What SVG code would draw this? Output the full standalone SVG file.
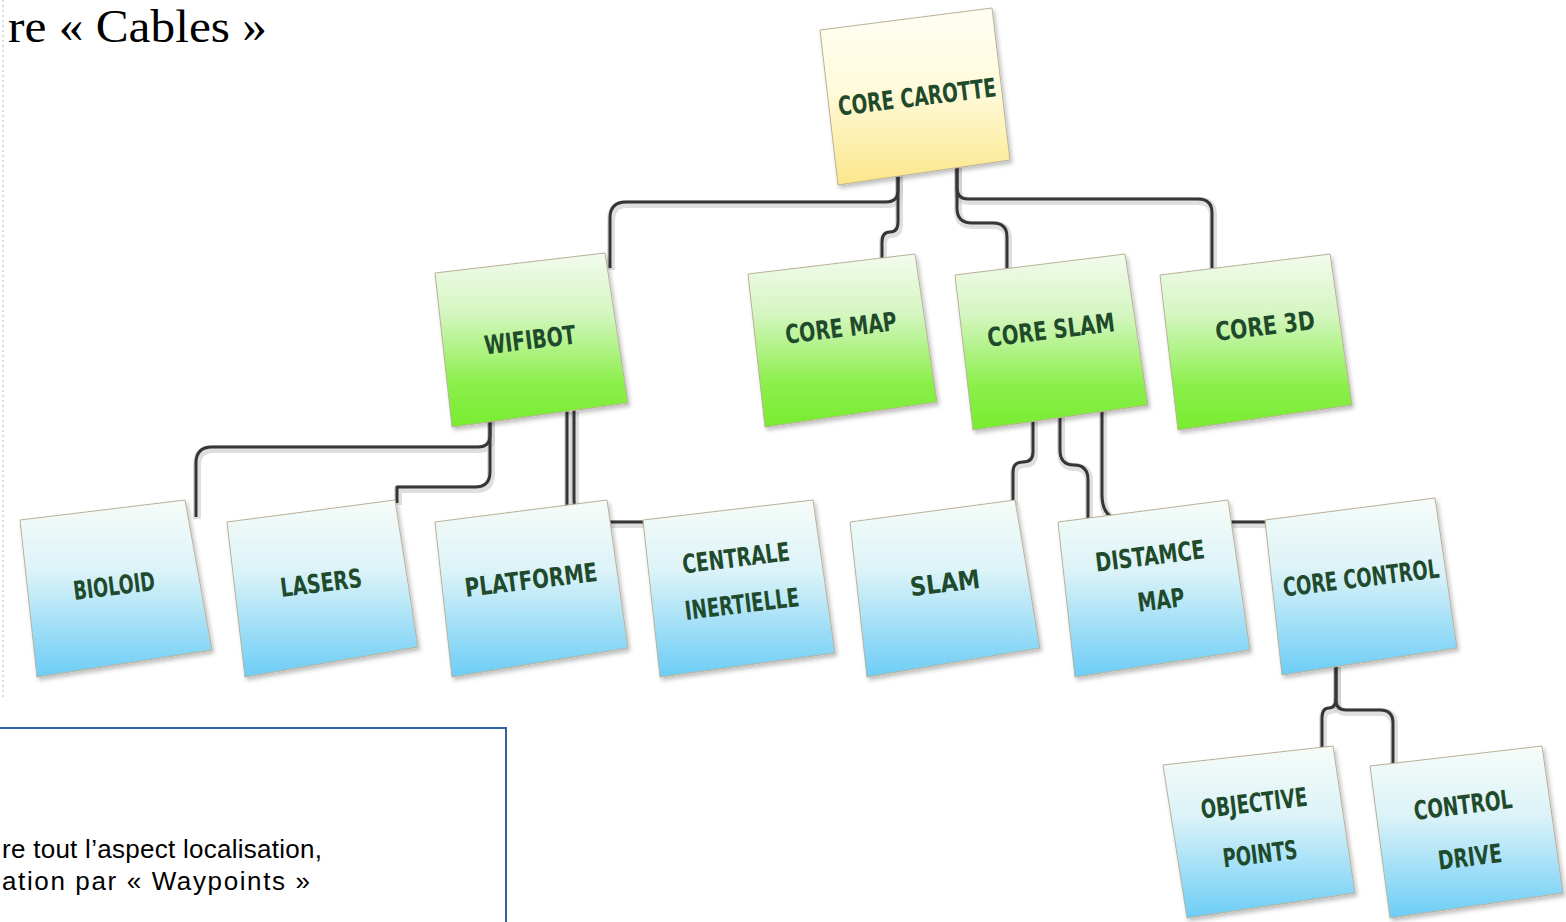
<svg xmlns="http://www.w3.org/2000/svg" width="1566" height="922" viewBox="0 0 1566 922">
<style>
.note{stroke:#b9b198;stroke-width:1;filter:url(#sh)}
.g{fill:url(#gGreen)}
.b{fill:url(#gBlue)}
.y{fill:url(#gYellow)}
.lbl{font-family:"DejaVu Sans Condensed","DejaVu Sans",sans-serif;font-weight:bold;font-size:26px;fill:#1f4a2c;text-anchor:middle;dominant-baseline:central}
.halo{fill:none;stroke:#c4c4c4;stroke-width:8;stroke-opacity:0.55;stroke-linejoin:round}
.wire{fill:none;stroke:#363636;stroke-width:3;stroke-linejoin:round}
.body{font-family:"Liberation Sans",Arial,sans-serif;font-size:26px;fill:#000}
</style>
<defs>
<linearGradient id="gGreen" x1="0" y1="0" x2="0" y2="1">
<stop offset="0" stop-color="#f3fbee"/><stop offset="0.35" stop-color="#d4f6c0"/><stop offset="0.75" stop-color="#8bef4a"/><stop offset="1" stop-color="#78ec30"/>
</linearGradient>
<linearGradient id="gBlue" x1="0" y1="0" x2="0" y2="1">
<stop offset="0" stop-color="#f6fcf8"/><stop offset="0.4" stop-color="#dcf3f8"/><stop offset="1" stop-color="#6ccdf6"/>
</linearGradient>
<linearGradient id="gYellow" x1="0" y1="0" x2="0" y2="1">
<stop offset="0" stop-color="#fffef3"/><stop offset="0.45" stop-color="#fffbdc"/><stop offset="1" stop-color="#fbe68a"/>
</linearGradient>
<filter id="sh" x="-10%" y="-10%" width="125%" height="125%">
<feDropShadow dx="2" dy="3" stdDeviation="2" flood-color="#000" flood-opacity="0.25"/>
</filter>
</defs>
<rect width="1566" height="922" fill="#fff"/>
<line x1="3" y1="0" x2="3" y2="700" stroke="#dcdcdc" stroke-width="2" stroke-dasharray="2 3"/>
<text x="8" y="42" font-family="'Liberation Serif','Times New Roman',serif" font-size="46" fill="#000" textLength="259" lengthAdjust="spacingAndGlyphs">re « Cables »</text>

<g id="connectors">
<g class="halo" transform="translate(1,2)">
<path d="M898,170 V190 Q898,202 886,202 H626 Q610,202 610,218 V268"/>
<path d="M898,170 V222 Q898,232 890,232 Q882,232 882,242 V262"/>
<path d="M957,165 V188 Q957,199 968,199 H1198 Q1212,199 1212,213 V268"/>
<path d="M957,165 V208 Q957,223 972,223 H993 Q1007,223 1007,237 V270"/>
<path d="M490,410 V435 Q490,447 478,447 H212 Q196,447 196,463 V517"/>
<path d="M490,410 V472 Q490,487 475,487 H397 V503"/>
<path d="M567,410 V506"/>
<path d="M574,410 V500 Q574,522 596,522 H646"/>
<path d="M1033,415 V452 Q1033,462 1023,462 Q1013,462 1013,472 V503"/>
<path d="M1060,412 V450 Q1060,465 1074,465 Q1088,465 1088,480 V520"/>
<path d="M1102,408 V495 Q1102,522 1130,522 H1270"/>
<path d="M1336,665 V698 Q1336,708 1329,708 Q1322,708 1322,718 V749"/>
<path d="M1336,665 V700 Q1336,710 1346,710 H1380 Q1393,710 1393,723 V765"/>
</g>
<g class="wire">
<path d="M898,170 V190 Q898,202 886,202 H626 Q610,202 610,218 V268"/>
<path d="M898,170 V222 Q898,232 890,232 Q882,232 882,242 V262"/>
<path d="M957,165 V188 Q957,199 968,199 H1198 Q1212,199 1212,213 V268"/>
<path d="M957,165 V208 Q957,223 972,223 H993 Q1007,223 1007,237 V270"/>
<path d="M490,410 V435 Q490,447 478,447 H212 Q196,447 196,463 V517"/>
<path d="M490,410 V472 Q490,487 475,487 H397 V503"/>
<path d="M567,410 V506"/>
<path d="M574,410 V500 Q574,522 596,522 H646"/>
<path d="M1033,415 V452 Q1033,462 1023,462 Q1013,462 1013,472 V503"/>
<path d="M1060,412 V450 Q1060,465 1074,465 Q1088,465 1088,480 V520"/>
<path d="M1102,408 V495 Q1102,522 1130,522 H1270"/>
<path d="M1336,665 V698 Q1336,708 1329,708 Q1322,708 1322,718 V749"/>
<path d="M1336,665 V700 Q1336,710 1346,710 H1380 Q1393,710 1393,723 V765"/>
</g>
</g>

<g id="core-carotte">
<polygon class="note y" points="820,30 992,8 1010,160 838,185"/>
<text class="lbl" x="917" y="97" textLength="159" lengthAdjust="spacingAndGlyphs" transform="rotate(-7 917 97)">CORE CAROTTE</text>
</g>
<g id="wifibot">
<polygon class="note g" points="435,273 605,253 628,403 452,427"/>
<text class="lbl" x="530" y="340" textLength="92" lengthAdjust="spacingAndGlyphs" transform="rotate(-7 530 340)">WIFIBOT</text>
</g>
<g id="core-map">
<polygon class="note g" points="748,274 915,254 937,402 765,427"/>
<text class="lbl" x="841" y="328" textLength="112" lengthAdjust="spacingAndGlyphs" transform="rotate(-7 841 328)">CORE MAP</text>
</g>
<g id="core-slam">
<polygon class="note g" points="955,275 1125,254 1148,405 973,430"/>
<text class="lbl" x="1051" y="330" textLength="128" lengthAdjust="spacingAndGlyphs" transform="rotate(-7 1051 330)">CORE SLAM</text>
</g>
<g id="core-3d">
<polygon class="note g" points="1160,275 1330,254 1352,405 1178,430"/>
<text class="lbl" x="1265" y="326" textLength="100" lengthAdjust="spacingAndGlyphs" transform="rotate(-7 1265 326)">CORE 3D</text>
</g>

<g id="bioloid">
<polygon class="note b" points="20,520 185,500 212,650 37,677"/>
<text class="lbl" x="114" y="586" textLength="82" lengthAdjust="spacingAndGlyphs" transform="rotate(-7 114 586)">BIOLOID</text>
</g>
<g id="lasers">
<polygon class="note b" points="227,522 395,500 418,647 245,677"/>
<text class="lbl" x="321" y="583" textLength="82" lengthAdjust="spacingAndGlyphs" transform="rotate(-7 321 583)">LASERS</text>
</g>
<g id="platforme">
<polygon class="note b" points="435,522 607,500 628,648 452,677"/>
<text class="lbl" x="531" y="580" textLength="133" lengthAdjust="spacingAndGlyphs" transform="rotate(-7 531 580)">PLATFORME</text>
</g>
<g id="centrale-inertielle">
<polygon class="note b" points="643,520 813,500 835,653 660,677"/>
<text class="lbl" x="736" y="558" textLength="108" lengthAdjust="spacingAndGlyphs" transform="rotate(-7 736 558)">CENTRALE</text>
<text class="lbl" x="742" y="604" textLength="115" lengthAdjust="spacingAndGlyphs" transform="rotate(-7 742 604)">INERTIELLE</text>
</g>
<g id="slam">
<polygon class="note b" points="850,522 1015,500 1040,648 867,677"/>
<text class="lbl" x="945" y="583" textLength="70" lengthAdjust="spacingAndGlyphs" transform="rotate(-7 945 583)">SLAM</text>
</g>
<g id="distamce-map">
<polygon class="note b" points="1058,522 1228,500 1250,650 1075,677"/>
<text class="lbl" x="1150" y="556" textLength="110" lengthAdjust="spacingAndGlyphs" transform="rotate(-7 1150 556)">DISTAMCE</text>
<text class="lbl" x="1161" y="600" textLength="47" lengthAdjust="spacingAndGlyphs" transform="rotate(-7 1161 600)">MAP</text>
</g>
<g id="core-control">
<polygon class="note b" points="1265,520 1435,498 1457,648 1282,675"/>
<text class="lbl" x="1361" y="578" textLength="157" lengthAdjust="spacingAndGlyphs" transform="rotate(-7 1361 578)">CORE CONTROL</text>
</g>
<g id="objective-points">
<polygon class="note b" points="1163,765 1333,746 1355,893 1187,918"/>
<text class="lbl" x="1254" y="803" textLength="107" lengthAdjust="spacingAndGlyphs" transform="rotate(-7 1254 803)">OBJECTIVE</text>
<text class="lbl" x="1260" y="854" textLength="75" lengthAdjust="spacingAndGlyphs" transform="rotate(-7 1260 854)">POINTS</text>
</g>
<g id="control-drive">
<polygon class="note b" points="1370,766 1542,746 1563,893 1390,918"/>
<text class="lbl" x="1463" y="805" textLength="99" lengthAdjust="spacingAndGlyphs" transform="rotate(-7 1463 805)">CONTROL</text>
<text class="lbl" x="1470" y="857" textLength="64" lengthAdjust="spacingAndGlyphs" transform="rotate(-7 1470 857)">DRIVE</text>
</g>

<g id="text-box">
<rect x="-10" y="728" width="516" height="220" fill="#fff" stroke="#2f62a6" stroke-width="2"/>
<text class="body" x="2" y="858" textLength="320" lengthAdjust="spacing">re tout l’aspect localisation,</text>
<text class="body" x="2" y="890" textLength="308" lengthAdjust="spacing">ation par « Waypoints »</text>
</g>
</svg>
